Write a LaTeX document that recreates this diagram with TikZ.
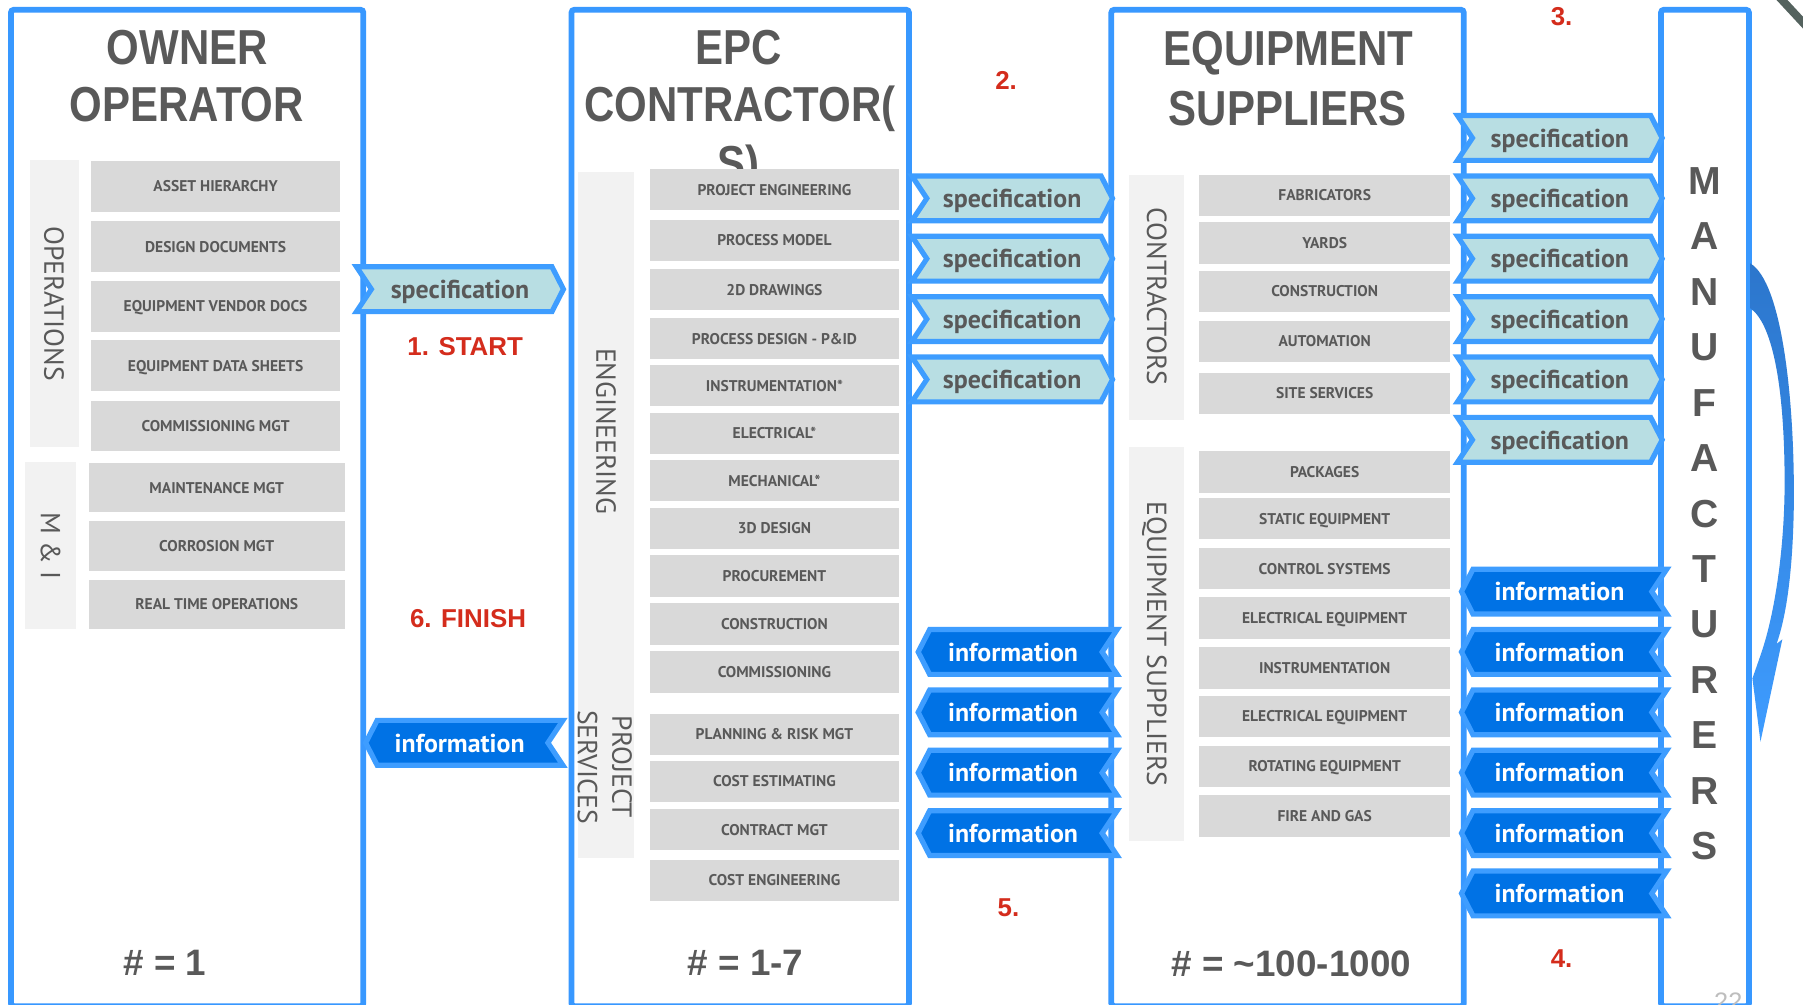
\documentclass[tikz,border=0pt]{standalone}
\usepackage{fontspec}
\usepackage{graphicx}
\setmainfont{Liberation Sans}
\newfontfamily\ptsans{PT Sans}

\definecolor{frameblue}{RGB}{56,152,255}
\definecolor{flagedge}{RGB}{62,157,255}
\definecolor{specfill}{RGB}{184,222,227}
\definecolor{infofill}{RGB}{0,114,229}
\definecolor{itemgray}{RGB}{217,217,217}
\definecolor{panelgray}{RGB}{242,242,242}
\definecolor{txtgray}{RGB}{89,89,89}
\definecolor{stepred}{RGB}{212,44,28}
\definecolor{arrowdark}{RGB}{44,118,204}
\definecolor{arrowlight}{RGB}{62,156,255}
\definecolor{pagegray}{RGB}{190,190,190}
\definecolor{cornergray}{RGB}{84,98,94}

\tikzset{
  colframe/.style={draw=frameblue, line width=5pt, rounded corners=2.5pt},
  titletext/.style={anchor=base, inner sep=0pt, text=txtgray,
    font=\bfseries\fontsize{36.5}{40}\selectfont},
  sidepanel/.style={fill=panelgray},
  sidelabel/.style={rotate=-90, inner sep=0pt, text=txtgray,
    font=\ptsans\fontsize{24}{30}\selectfont},
  capline/.style={text height=16.8pt, text depth=0pt},
  itembox/.style={fill=itemgray, inner sep=0pt, text=txtgray,
    font=\ptsans\bfseries\fontsize{13.5}{15}\selectfont,
    text height=9.5pt, text depth=0pt},
  ownitem/.style={itembox, minimum width=217pt, minimum height=44pt},
  miitem/.style={itembox, minimum width=223pt, minimum height=43pt},
  epcitem/.style={itembox, minimum width=217pt, minimum height=36pt},
  eqitem/.style={itembox, minimum width=218pt, minimum height=36pt},
  specshape/.style={draw=flagedge, fill=specfill, line width=4.5pt, line join=miter},
  infoshape/.style={draw=flagedge, fill=infofill, line width=4.5pt, line join=miter},
  spectext/.style={anchor=base, inner sep=0pt, text=txtgray,
    font=\ptsans\bfseries\fontsize{22.5}{24}\selectfont},
  infotext/.style={anchor=base, inner sep=0pt, text=white,
    font=\ptsans\bfseries\fontsize{22.5}{24}\selectfont},
  steplabel/.style={inner sep=0pt, text=stepred,
    font=\bfseries\fontsize{22.5}{24}\selectfont},
  countlabel/.style={inner sep=0pt, text=txtgray,
    font=\bfseries\fontsize{32}{34}\selectfont},
  mfletter/.style={inner sep=0pt, text=txtgray, text height=24.3pt, text depth=0pt,
    font=\bfseries\fontsize{34}{36}\selectfont}
}

% banner pointing right: name, left x, right x, centre y
\newcommand\specbanner[4]{%
  \filldraw[specshape] (#2,#4-19.5) -- (#3-10,#4-19.5) -- (#3,#4) -- (#3-10,#4+19.5)
    -- (#2,#4+19.5) -- (#2+13,#4) -- cycle;
  \node[spectext] (#1) at ({(#2+#3)/2},#4+8) {specification};}
% banner pointing left: name, left x, right x, centre y
\newcommand\infobanner[4]{%
  \filldraw[infoshape] (#2,#4) -- (#2+10,#4-19.5) -- (#3,#4-19.5) -- (#3-13,#4)
    -- (#3,#4+19.5) -- (#2+10,#4+19.5) -- cycle;
  \node[infotext] (#1) at ({(#2+#3)/2-4},#4+8) {information};}

\begin{document}
\begin{tikzpicture}[x=1pt, y=-1pt]
\useasboundingbox (0,0) rectangle (1568,874);
\fill[white] (0,0) rectangle (1568,874);

% corner decoration
\draw[cornergray, line width=7pt] (1546,-4) -- (1572,24);

% column frames
\draw[colframe] (9.5,8.5) rectangle (316,875);
\draw[colframe] (497,8.5) rectangle (790.5,875);
\draw[colframe] (966.5,8.5) rectangle (1273,875);
\draw[colframe] (1444.5,8.5) rectangle (1521,875);

% titles
\node[titletext] (own1) at (163,56) {\scalebox{1}[1.17]{OWNER}};
\node[titletext] (own2) at (162.5,106) {\scalebox{1}[1.17]{OPERATOR}};
\node[titletext] (epc1) at (642.5,56) {\scalebox{1}[1.17]{EPC}};
\node[titletext] (epc2) at (643.5,106) {\scalebox{1}[1.17]{CONTRACTOR(}};
\node[titletext] (epc3) at (642,157) {\scalebox{1}[1.17]{S)}};
\node[titletext] (eqs1) at (1120.5,57) {\scalebox{1}[1.17]{EQUIPMENT}};
\node[titletext] (eqs2) at (1120,109) {\scalebox{1}[1.17]{SUPPLIERS}};

% manufacturers, one letter per line
\foreach \l [count=\i] in {M,A,N,U,F,A,C,T,U,R,E,R,S}
  {\node[mfletter] (mf\i) at (1482.5,{157+48.2*(\i-1)}) {\l};}

% owner operator
\fill[sidepanel] (26,139) rectangle (69,389);
\fill[sidepanel] (22,402) rectangle (66,547);
\node[sidelabel, capline] (opslabel) at (47,264) {OPERATIONS};
\node[sidelabel, capline] (milabel) at (44,475) {M \& I};
\foreach \y/\n/\t in {162/oa/ASSET HIERARCHY, 214.5/ob/DESIGN DOCUMENTS,
    266.5/oc/EQUIPMENT VENDOR DOCS, 318/od/EQUIPMENT DATA SHEETS,
    370.5/oe/COMMISSIONING MGT}
  {\node[ownitem] (\n) at (187.5,\y) {\t};}
\foreach \y/\n/\t in {424/ma/MAINTENANCE MGT, 475/mb/CORROSION MGT,
    525.5/mc/REAL TIME OPERATIONS}
  {\node[miitem] (\n) at (188.5,\y) {\t};}

% EPC contractor(s)
\fill[sidepanel] (503,150) rectangle (551,746);
\node[sidelabel, capline] (englabel) at (527,375) {ENGINEERING};
\node[sidelabel, align=center] (pslabel) at (526,667) {PROJECT\\SERVICES};
\foreach \y/\n/\t in {165/ea/PROJECT ENGINEERING, 209/eb/PROCESS MODEL,
    252/ec/2D DRAWINGS, 294.5/ed/PROCESS DESIGN - P\&ID,
    335.5/ee/INSTRUMENTATION*, 377/ef/ELECTRICAL*, 418/eg/MECHANICAL*,
    459.5/eh/3D DESIGN, 501/ei/PROCUREMENT, 542.5/ej/CONSTRUCTION,
    584.5/ek/COMMISSIONING, 638.5/el/PLANNING \& RISK MGT,
    679.5/em/COST ESTIMATING, 721.5/en/CONTRACT MGT,
    765.5/eo/COST ENGINEERING}
  {\node[epcitem] (\n) at (673.5,\y) {\t};}

% equipment suppliers
\fill[sidepanel] (982,152) rectangle (1030,365);
\fill[sidepanel] (982,389) rectangle (1030,731);
\node[sidelabel, capline] (conlabel) at (1006,258) {CONTRACTORS};
\node[sidelabel, capline] (eqlabel) at (1006,560) {EQUIPMENT SUPPLIERS};
\foreach \y/\n/\t in {170/ca/FABRICATORS, 211.5/cb/YARDS,
    253.5/cc/CONSTRUCTION, 297/cd/AUTOMATION, 342/ce/SITE SERVICES,
    410.5/qa/PACKAGES, 451/qb/STATIC EQUIPMENT, 494.5/qc/CONTROL SYSTEMS,
    537.5/qd/ELECTRICAL EQUIPMENT, 581/qe/INSTRUMENTATION,
    623/qf/ELECTRICAL EQUIPMENT, 666.5/qg/ROTATING EQUIPMENT,
    709.5/qh/FIRE AND GAS}
  {\node[eqitem] (\n) at (1152,\y) {\t};}

% flow banners
\specbanner{sa}{310}{490}{251.5}
\infobanner{ia}{318}{489.5}{646}
\foreach \y [count=\i] in {172.5,225,277.5,330}
  {\specbanner{sb\i}{793}{967.5}{\y}}
\foreach \y [count=\i] in {567,619.5,672,724.5}
  {\infobanner{ib\i}{798.5}{971.5}{\y}}
\foreach \y [count=\i] in {120,172.5,225,277.5,330,382.5}
  {\specbanner{sc\i}{1267.5}{1445.5}{\y}}
\foreach \y [count=\i] in {514.5,567,619.5,672,724.5,777}
  {\infobanner{ic\i}{1271}{1449.5}{\y}}

% step numbers
\node[steplabel] (s1) at (404.5,301) {1. START};
\node[steplabel] (s2) at (875,70) {2.};
\node[steplabel] (s3) at (1358,14.5) {3.};
\node[steplabel] (s4) at (1358,834) {4.};
\node[steplabel] (s5) at (877,789) {5.};
\node[steplabel] (s6) at (407,538) {6. FINISH};

% counts
\node[countlabel] (n1) at (143.5,837.5) {\# = 1};
\node[countlabel] (n2) at (648.5,837) {\# = 1-7};
\node[countlabel] (n3) at (1123,838) {\# = \textasciitilde 100-1000};

% return loop beside the manufacturers
\shade[top color=arrowdark, bottom color=arrowlight]
  (1522,229) .. controls (1550,245) and (1561,350) .. (1560,440)
  .. controls (1559,505) and (1552,540) .. (1545,560)
  -- (1550,556) -- (1531,645) -- (1524,590) -- (1531,570)
  .. controls (1545,530) and (1552,470) .. (1552,420)
  .. controls (1552,330) and (1540,280) .. (1522,268) -- cycle;

% page number
\node[anchor=base, inner sep=0pt, text=pagegray, font=\fontsize{22}{24}\selectfont]
  (pagenum) at (1503,879) {22};
\end{tikzpicture}
\end{document}
